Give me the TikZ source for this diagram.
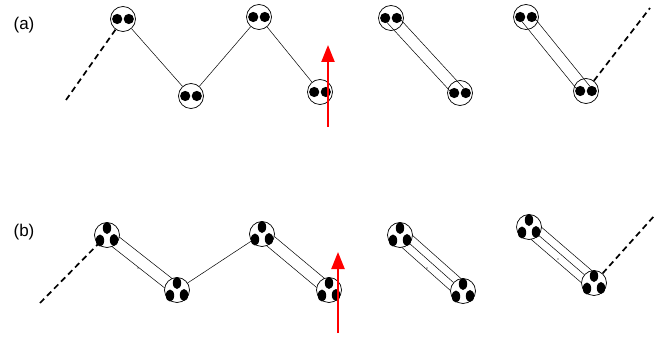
\documentclass[tikz,border=0pt]{standalone}
\usepackage{fontspec}
\setmainfont{Liberation Sans}
\usetikzlibrary{calc,arrows.meta}
\newcommand{\edgepair}[3]{% #1,#2 nodes, #3 angle
  \draw[bond] ($(#1.center)!12.5pt!#3:(#2.center)$) -- ($(#2.center)!12.5pt!-#3:(#1.center)$);
  \draw[bond] ($(#1.center)!12.5pt!-#3:(#2.center)$) -- ($(#2.center)!12.5pt!#3:(#1.center)$);}
\newcommand{\centerpair}[2]{%
  \draw[bond] ($(#1.center)!6pt!90:(#2.center)$) -- ($(#2.center)!6pt!-90:(#1.center)$);
  \draw[bond] ($(#1.center)!6pt!-90:(#2.center)$) -- ($(#2.center)!6pt!90:(#1.center)$);}
\begin{document}
\begin{tikzpicture}[x=1pt,y=-1pt,
  ring/.style={circle,draw,line width=0.7pt,minimum size=25pt,inner sep=0pt},
  bond/.style={line width=0.5pt},
  chain/.style={line width=1.7pt,dash pattern=on 6pt off 4pt},
  field/.style={red,line width=2.2pt,-{Triangle[length=17pt,width=13pt]}},
  lbl/.style={font=\fontsize{17}{20}\selectfont,inner sep=0pt},
  two/.pic={\fill (-5.8,0) circle (5.1); \fill (5.8,0) circle (5.1);},
  three/.pic={\fill (0,-7) ellipse (4.2 and 6);
              \fill (-7,5.5) ellipse (4.2 and 6);
              \fill (7,5) ellipse (4.2 and 6);}
]
\useasboundingbox (0,0) rectangle (669,339);

% labels
\node[lbl] (la) at (24,25) {(a)};
\node[lbl] (lb) at (24,232) {(b)};

% row (a)
\node[ring] (a1) at (123,19) {};
\node[ring] (a2) at (191,96) {};
\node[ring] (a3) at (259,17) {};
\node[ring] (a4) at (320,92) {};
\node[ring] (a5) at (391,18) {};
\node[ring] (a6) at (460,93) {};
\node[ring] (a7) at (526,17) {};
\node[ring] (a8) at (586,91) {};
\coordinate (ca0) at (66,100);
\coordinate (ca9) at (650,8);

\draw[chain] (ca0) -- (a1);
\draw[bond] (a1) -- (a2);
\draw[bond] (a2) -- (a3);
\draw[bond] (a3) -- (a4);
\centerpair{a5}{a6}
\centerpair{a7}{a8}
\draw[chain] (a8) -- (ca9);

\foreach \n in {a1,a2,a3,a4,a5,a6,a7,a8} \pic at (\n) {two};

\coordinate (fa0) at (328,127);
\coordinate (fa1) at (328,45);
\draw[field] (fa0) -- (fa1);

% row (b)
\node[ring] (b1) at (107,235) {};
\node[ring] (b2) at (177,290) {};
\node[ring] (b3) at (262,234) {};
\node[ring] (b4) at (329,290) {};
\node[ring] (b5) at (400,235) {};
\node[ring] (b6) at (463,291) {};
\node[ring] (b7) at (529,227) {};
\node[ring] (b8) at (594,283) {};
\coordinate (cb0) at (40,303);
\coordinate (cb9) at (655,215);

\draw[chain] (cb0) -- (b1);
\edgepair{b1}{b2}{28.7}
\draw[bond] (b2) -- (b3);
\edgepair{b3}{b4}{28.7}
\edgepair{b5}{b6}{39.8}
\draw[bond] (b5) -- (b6);
\edgepair{b7}{b8}{39.8}
\draw[bond] (b7) -- (b8);
\draw[chain] (b8) -- (cb9);

\foreach \n in {b1,b2,b3,b4,b5,b6,b7,b8} \pic at (\n) {three};

\fill (138,268) circle (0.6);
\fill (427,268) circle (0.6);
\fill (558,259) circle (0.6);

\coordinate (fb0) at (338,333);
\coordinate (fb1) at (338,252);
\draw[field] (fb0) -- (fb1);
\end{tikzpicture}
\end{document}
